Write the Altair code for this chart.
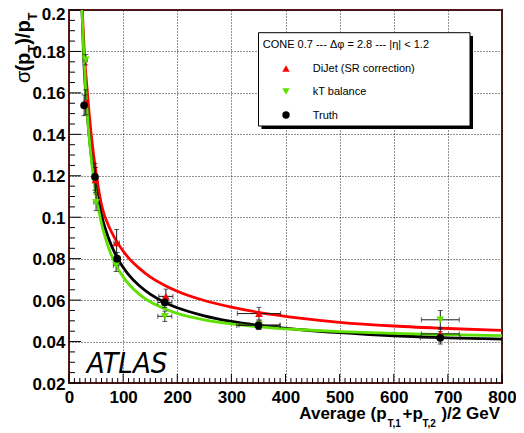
import altair as alt
import pandas as pd

# ---------------- data ----------------
series_names = ["DiJet (SR correction)", "kT balance", "Truth"]
series_colors = ["#ff0000", "#5ee000", "#000000"]
series_shapes = ["triangle-up", "triangle-down", "circle"]

dijet_x = [31, 49, 88, 179, 351, 686]
dijet_y = [0.1555, 0.118, 0.0876, 0.0618, 0.0535, 0.0437]
dijet_xerr = [3, 4, 5, 13, 40, 35]
dijet_yerr = [0.006, 0.006, 0.0065, 0.0035, 0.003, 0.003]

kt_x = [31, 50, 87, 177, 352, 686]
kt_y = [0.176, 0.1072, 0.0768, 0.0522, 0.048, 0.0505]
kt_xerr = [3, 4, 5, 13, 38, 35]
kt_yerr = [0.0025, 0.004, 0.003, 0.0025, 0.002, 0.0045]

truth_x = [28, 48, 89, 177, 350, 686]
truth_y = [0.154, 0.1195, 0.080, 0.0589, 0.0478, 0.0418]
truth_xerr = [3, 4, 5, 13, 40, 37]
truth_yerr = [0.005, 0.0065, 0.003, 0.0025, 0.002, 0.003]

# fitted curves, sampled by eye
fit_dijet_x = [24.5, 28, 34, 41, 51, 60, 77, 90, 100, 110, 130, 150, 180, 200, 250, 300, 350, 430, 500, 600, 700, 800]
fit_dijet_y = [0.200, 0.181, 0.160, 0.140, 0.1195, 0.106, 0.0937, 0.0875, 0.0837, 0.0804, 0.0753, 0.0712, 0.0667,
               0.0643, 0.0598, 0.0566, 0.0541, 0.0512, 0.0493, 0.0475, 0.0463, 0.0454]

fit_kt_x = [24, 27, 31, 36, 43, 50, 60, 70, 87, 100, 130, 150, 180, 200, 250, 300, 350, 430, 500, 600, 700, 800]
fit_kt_y = [0.200, 0.181, 0.161, 0.1425, 0.1238, 0.1105, 0.097, 0.0876, 0.0768, 0.0712, 0.0628, 0.0592, 0.0555,
            0.0536, 0.0505, 0.0485, 0.0471, 0.0457, 0.0448, 0.0439, 0.0433, 0.0429]

fit_truth_x = [24, 27, 31, 37, 46, 60, 75, 90, 110, 130, 150, 180, 200, 250, 300, 350, 430, 500, 600, 700, 800]
fit_truth_y = [0.200, 0.178, 0.1595, 0.140, 0.120, 0.101, 0.0885, 0.0800, 0.0723, 0.0669, 0.0629, 0.0585, 0.0563,
               0.0524, 0.0497, 0.0478, 0.0457, 0.0443, 0.0428, 0.0418, 0.0412]

x_major = [0, 100, 200, 300, 400, 500, 600, 700, 800]
y_major = [0.02, 0.04, 0.06, 0.08, 0.1, 0.12, 0.14, 0.16, 0.18, 0.2]
x_minor = [v for v in range(0, 801, 10) if v % 100 != 0]
y_minor = [round(0.02 + 0.005 * i, 3) for i in range(37) if i % 4 != 0]

# ---------------- tables ----------------
rows = []
for name, xs_, ys_, xe, ye in [
    (series_names[0], dijet_x, dijet_y, dijet_xerr, dijet_yerr),
    (series_names[1], kt_x, kt_y, kt_xerr, kt_yerr),
    (series_names[2], truth_x, truth_y, truth_xerr, truth_yerr),
]:
    for a, b, c, d in zip(xs_, ys_, xe, ye):
        rows.append({"series": name, "x": a, "y": b, "xlo": a - c, "xhi": a + c, "ylo": b - d, "yhi": b + d})
pts = pd.DataFrame(rows)

crows = []
for name, fx, fy in [
    (series_names[0], fit_dijet_x, fit_dijet_y),
    (series_names[1], fit_kt_x, fit_kt_y),
    (series_names[2], fit_truth_x, fit_truth_y),
]:
    for a, b in zip(fx, fy):
        crows.append({"series": name, "x": a, "y": b})
curves = pd.DataFrame(crows)

W, H = 433, 373
FONT = "Liberation Sans"

xs = alt.Scale(domain=[0, 800], nice=False, zero=False)
ys = alt.Scale(domain=[0.02, 0.2], nice=False, zero=False)

xaxis = alt.Axis(values=x_major, labelFont=FONT, labelFontSize=17, labelFontWeight="bold", labelColor="black",
                 labelPadding=6, labelFlush=False, labelOverlap=False, ticks=False, domain=False,
                 grid=True, gridColor="#111111", gridDash=[1, 2], gridWidth=1, gridOpacity=0.9, title=None)
yaxis = alt.Axis(values=y_major, format="~g", labelFont=FONT, labelFontSize=17, labelFontWeight="bold",
                 labelColor="black", labelPadding=4, labelFlush=False, labelOverlap=False, ticks=False,
                 labelOffset={"condition": {"test": "datum.value > 0.19", "value": 4}, "value": 1},
                 domain=False, grid=True, gridColor="#111111", gridDash=[1, 2], gridWidth=1, gridOpacity=0.9,
                 title=None)

color = alt.Color("series:N", scale=alt.Scale(domain=series_names, range=series_colors), legend=None)
shape = alt.Shape("series:N", scale=alt.Scale(domain=series_names, range=series_shapes), legend=None)


def X(f):
    return alt.X(f, type="quantitative", scale=xs, axis=xaxis)


def Y(f):
    return alt.Y(f, type="quantitative", scale=ys, axis=yaxis)


layers = []

# inward ticks
for vals, ln in [(x_major, 9), (x_minor, 5)]:
    layers.append(alt.Chart(pd.DataFrame({"t": vals})).mark_rule(color="black", strokeWidth=1).encode(
        x=X("t"), y=alt.value(H), y2=alt.value(H - ln)))
for vals, ln in [(y_major, 12), (y_minor, 6)]:
    layers.append(alt.Chart(pd.DataFrame({"t": vals})).mark_rule(color="black", strokeWidth=1).encode(
        y=Y("t"), x=alt.value(0), x2=alt.value(ln)))

# fitted curves (red, black, green order so green on top)
for name in [series_names[0], series_names[2], series_names[1]]:
    layers.append(alt.Chart(curves).transform_filter(alt.datum.series == name).mark_line(
        strokeWidth=2.8, interpolate="monotone", clip=True).encode(x=X("x"), y=Y("y"), color=color))

# error bars
ebc = "#1a1a1a"
layers.append(alt.Chart(pts).mark_rule(color=ebc, strokeWidth=1).encode(x=X("x"), y=Y("ylo"), y2="yhi"))
layers.append(alt.Chart(pts).mark_rule(color=ebc, strokeWidth=1).encode(x=X("xlo"), x2="xhi", y=Y("y")))
for f in ["ylo", "yhi"]:
    layers.append(alt.Chart(pts).mark_tick(orient="horizontal", size=5, thickness=1, color=ebc).encode(
        x=X("x"), y=Y(f)))
for f in ["xlo", "xhi"]:
    layers.append(alt.Chart(pts).mark_tick(orient="vertical", size=5, thickness=1, color=ebc).encode(
        x=X(f), y=Y("y")))

# markers
for name in [series_names[1], series_names[0], series_names[2]]:
    layers.append(alt.Chart(pts).transform_filter(alt.datum.series == name).mark_point(
        filled=True, size=60, opacity=1).encode(x=X("x"), y=Y("y"), color=color, shape=shape))

one = pd.DataFrame({"k": [0]})


def txt(s, x, y, **kw):
    return alt.Chart(one).mark_text(text=s, x=x, y=y, **kw)


# legend box
layers.append(alt.Chart(one).mark_rect(color="black").encode(
    x=alt.value(192.5), x2=alt.value(404), y=alt.value(26), y2=alt.value(119)))
layers.append(alt.Chart(one).mark_rect(fill="white", stroke="black", strokeWidth=1).encode(
    x=alt.value(189.5), x2=alt.value(401), y=alt.value(22.7), y2=alt.value(116)))
layers.append(txt("CONE 0.7 --- \u0394\u03c6 = 2.8 --- |\u03b7| < 1.2", 193.7, 38.3, align="left",
                  baseline="alphabetic", font=FONT, fontSize=11, color="black"))
leg_y = [58.5, 81.5, 105]
for name, ly in zip(series_names, leg_y):
    layers.append(alt.Chart(pd.DataFrame({"series": [name]})).mark_point(filled=True, size=55, opacity=1).encode(
        x=alt.value(217), y=alt.value(ly), color=color, shape=shape))
    layers.append(txt(name, 243.7, ly + 0.5, align="left", baseline="middle", font=FONT, fontSize=11,
                      color="black"))

# ATLAS label
layers.append(txt("ATLAS", 17.7, 363.3, align="left", baseline="alphabetic",
                  font="Liberation Sans Narrow, DejaVu Sans Condensed, Liberation Sans", fontSize=29,
                  fontStyle="italic", color="black"))

# x axis title
xb = 409.0
layers.append(txt("Average (p", 230.3, xb, align="left", baseline="alphabetic", font=FONT, fontSize=17,
                  fontWeight="bold", color="black"))
layers.append(txt("T,1", 318.5, xb + 8, align="left", baseline="alphabetic", font=FONT, fontSize=10,
                  fontWeight="bold", color="black"))
layers.append(txt("+p", 333.5, xb, align="left", baseline="alphabetic", font=FONT, fontSize=17,
                  fontWeight="bold", color="black"))
layers.append(txt("T,2", 353.5, xb + 8, align="left", baseline="alphabetic", font=FONT, fontSize=10,
                  fontWeight="bold", color="black"))
layers.append(txt(")/2 GeV", 431, xb, align="right", baseline="alphabetic", font=FONT, fontSize=17,
                  fontWeight="bold", color="black"))

# y axis title (rotated, reads bottom to top)
yb = -39
layers.append(txt("\u03c3", yb, 73, angle=270, align="left", baseline="alphabetic", font=FONT, fontSize=20,
                  color="black"))
layers.append(txt("(p", yb, 61.6, angle=270, align="left", baseline="alphabetic", font=FONT, fontSize=20,
                  fontWeight="bold", color="black"))
layers.append(txt("T", yb + 6.5, 42.7, angle=270, align="left", baseline="alphabetic", font=FONT, fontSize=13,
                  fontWeight="bold", color="black"))
layers.append(txt(")/p", yb, 34.8, angle=270, align="left", baseline="alphabetic", font=FONT, fontSize=20,
                  fontWeight="bold", color="black"))
layers.append(txt("T", yb + 6.5, 10.4, angle=270, align="left", baseline="alphabetic", font=FONT, fontSize=13,
                  fontWeight="bold", color="black"))

chart = alt.layer(*layers).properties(
    width=W, height=H,
    autosize=alt.AutoSizeParams(type="none"),
    padding={"left": 61, "top": 2, "right": 14, "bottom": 50},
    background="white",
).configure_view(stroke="#5a1a1a", strokeWidth=2)

chart.save("out.html", embed_options={"renderer": "svg", "actions": False})
